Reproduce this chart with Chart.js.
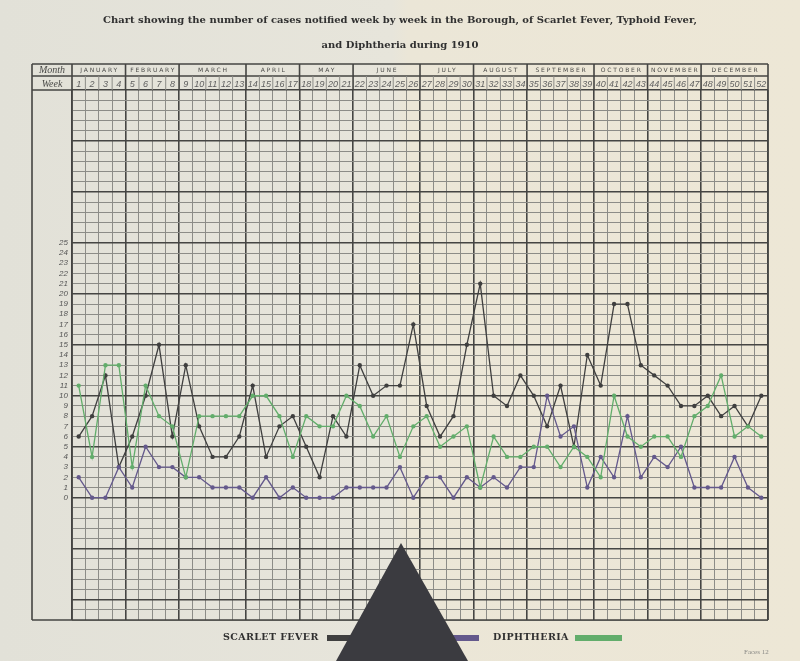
<!DOCTYPE html>
<html lang="en">
<head>
    <meta charset="UTF-8">
    <title>Scarlet Fever, Typhoid Fever and Diphtheria 1910</title>
    <script src="https://cdn.jsdelivr.net/npm/chart.js@4"></script>
    <style>
        html, body { margin: 0; padding: 0; background: #e8e5da; }
        #wrap { width: 800px; height: 661px; }
    </style>
</head>
<body>
    <div id="wrap"><canvas id="chart" width="800" height="661"></canvas></div>

    <script>
        // Data (cases notified per week, 1910)
        const weeks = ['1','2','3','4','5','6','7','8','9','10','11','12','13','14','15','16','17','18','19','20',
            '21','22','23','24','25','26','27','28','29','30','31','32','33','34','35','36','37','38','39','40',
            '41','42','43','44','45','46','47','48','49','50','51','52'];
        const months = ['JANUARY','FEBRUARY','MARCH','APRIL','MAY','JUNE','JULY','AUGUST','SEPTEMBER','OCTOBER','NOVEMBER','DECEMBER'];
        const monthWeeks = [4, 4, 5, 4, 4, 5, 4, 4, 5, 4, 4, 5];

        const scarletFever = [6,8,12,3,6,10,15,6,13,7,4,4,6,11,4,7,8,5,2,8,6,13,10,11,11,17,
            9,6,8,15,21,10,9,12,10,7,11,5,14,11,19,19,13,12,11,9,9,10,8,9,7,10];
        const typhoidFever = [2,0,0,3,1,5,3,3,2,2,1,1,1,0,2,0,1,0,0,0,1,1,1,1,3,0,
            2,2,0,2,1,2,1,3,3,10,6,7,1,4,2,8,2,4,3,5,1,1,1,4,1,0];
        const diphtheria = [11,4,13,13,3,11,8,7,2,8,8,8,8,10,10,8,4,8,7,7,10,9,6,8,4,7,
            8,5,6,7,1,6,4,4,5,5,3,5,4,2,10,6,5,6,6,4,8,9,12,6,7,6];

        const yMin = -12, yMax = 40, yLabelMax = 25;

        const dark = '#454543';
        const light = '#8c8c87';
        const colScarlet = '#3f3f3f';
        const colTyphoid = '#64598c';
        const colDiph = '#62ad6b';

        // index of grid line at the left edge of each month (plus the right edge)
        const monthStarts = [];
        let acc = 0;
        monthWeeks.forEach(n => { monthStarts.push(acc); acc += n; });
        monthStarts.push(acc);

        const paper = {
            id: 'paper',
            beforeDraw(chart) {
                const c = chart.ctx;
                const g = c.createLinearGradient(0, 0, chart.width, 0);
                g.addColorStop(0, '#e2e1d8');
                g.addColorStop(0.49, '#e7e5db');
                g.addColorStop(0.51, '#ebe6d7');
                g.addColorStop(1, '#ede7d6');
                c.save();
                c.fillStyle = g;
                c.fillRect(0, 0, chart.width, chart.height);
                c.restore();
            }
        };

        const frame = {
            id: 'frame',
            afterDraw(chart) {
                const c = chart.ctx;
                const x = chart.scales.x;
                const area = chart.chartArea;
                const L = 32, top = 64, mid = 76;
                const colW = x.getPixelForValue(1) - x.getPixelForValue(0);
                const edge = i => x.getPixelForValue(0) - colW / 2 + i * colW;

                c.save();
                // header rows
                c.strokeStyle = dark;
                c.lineWidth = 1.6;
                c.beginPath();
                c.moveTo(L, top); c.lineTo(area.right, top);
                c.moveTo(L, mid); c.lineTo(area.right, mid);
                c.moveTo(L, area.top); c.lineTo(area.left, area.top);
                c.moveTo(L, top); c.lineTo(L, area.bottom);
                c.moveTo(area.left, top); c.lineTo(area.left, area.bottom);
                c.moveTo(area.right, top); c.lineTo(area.right, area.bottom);
                c.moveTo(L, area.bottom); c.lineTo(area.right, area.bottom);
                monthStarts.forEach(i => { c.moveTo(edge(i), top); c.lineTo(edge(i), area.top); });
                c.stroke();

                c.strokeStyle = light;
                c.lineWidth = 1;
                c.beginPath();
                for (let i = 1; i < weeks.length; i++) {
                    if (monthStarts.includes(i)) continue;
                    c.moveTo(edge(i), mid); c.lineTo(edge(i), area.top);
                }
                c.stroke();

                // header text
                c.fillStyle = '#4a4a48';
                c.textAlign = 'center';
                c.textBaseline = 'middle';
                c.font = 'italic 10px "Liberation Serif"';
                c.fillText('Month', (L + area.left) / 2, 70);
                c.fillText('Week', (L + area.left) / 2, 84);

                c.font = '6px "DejaVu Sans"';
                c.letterSpacing = '1.8px';
                months.forEach((m, k) => {
                    const cx = (edge(monthStarts[k]) + edge(monthStarts[k + 1])) / 2;
                    c.fillText(m, cx + 0.9, 70.5);
                });
                c.letterSpacing = '0px';

                c.fillStyle = '#606060';
                c.font = 'italic 9px "Liberation Sans"';
                weeks.forEach((w, i) => c.fillText(w, x.getPixelForValue(i), 84));

                // title, sized to the width of the printed heading
                const t1 = 'Chart showing the number of cases notified week by week in the Borough, of Scarlet Fever, Typhoid Fever,';
                c.font = 'bold 10px "DejaVu Serif"';
                const size = 10 * 594 / c.measureText(t1).width;
                c.font = 'bold ' + size.toFixed(2) + 'px "DejaVu Serif"';
                c.fillStyle = '#303030';
                c.fillText(t1, 400, 20);
                c.fillText('and Diphtheria during 1910', 400, 45);

                // legend
                c.textAlign = 'left';
                c.font = 'bold 9.5px "DejaVu Serif"';
                c.letterSpacing = '0.4px';
                c.fillText('SCARLET FEVER', 223, 638);
                c.fillText('DIPHTHERIA', 493, 638);
                c.letterSpacing = '0px';
                c.font = 'bold 7.5px "DejaVu Serif"';
                c.fillText('TYPHOID FEVER', 364, 638);
                c.fillStyle = colScarlet; c.fillRect(327, 635, 30, 6);
                c.fillStyle = colTyphoid; c.fillRect(444, 635, 35, 6);
                c.fillStyle = colDiph; c.fillRect(575, 635, 47, 6);

                c.fillStyle = '#8a8a86';
                c.font = '7px "Liberation Serif"';
                c.fillText('Faces 12', 744, 652);

                // dark triangle over the lower middle of the scan
                c.fillStyle = '#3b3b40';
                c.beginPath();
                c.moveTo(401, 543);
                c.lineTo(468, 661);
                c.lineTo(336, 661);
                c.closePath();
                c.fill();
                c.restore();
            }
        };

        const lineSet = (label, data, color) => ({
            label: label,
            data: data,
            borderColor: color,
            backgroundColor: color,
            borderWidth: 1.3,
            pointRadius: 2.2,
            pointBorderWidth: 0,
            pointBackgroundColor: color,
            tension: 0
        });

        const ctx = document.getElementById('chart').getContext('2d');
        new Chart(ctx, {
            type: 'line',
            data: {
                labels: weeks,
                datasets: [
                    lineSet('Diphtheria', diphtheria, colDiph),
                    lineSet('Typhoid Fever', typhoidFever, colTyphoid),
                    lineSet('Scarlet Fever', scarletFever, colScarlet)
                ]
            },
            options: {
                responsive: false,
                animation: false,
                layout: { padding: { left: 32, right: 32, top: 90, bottom: 41 } },
                plugins: {
                    legend: { display: false },
                    title: { display: false },
                    tooltip: { enabled: false }
                },
                scales: {
                    x: {
                        type: 'category',
                        offset: true,
                        ticks: { display: false },
                        border: { display: false },
                        grid: {
                            offset: true,
                            drawTicks: false,
                            color: c => (c.index === undefined || monthStarts.includes(c.index)) ? dark : light,
                            lineWidth: c => (c.index === undefined || monthStarts.includes(c.index)) ? 1.6 : 1
                        },
                        afterFit(s) { s.height = 0; }
                    },
                    y: {
                        min: yMin,
                        max: yMax,
                        border: { display: false },
                        ticks: {
                            stepSize: 1,
                            autoSkip: false,
                            maxTicksLimit: 100,
                            padding: 4,
                            color: '#555',
                            font: { family: 'Liberation Sans', style: 'italic', size: 8 },
                            callback: v => (v >= 0 && v <= yLabelMax) ? String(v) : ''
                        },
                        grid: {
                            drawTicks: false,
                            color: c => (c.tick.value % 5 === 0) ? dark : light,
                            lineWidth: c => (c.tick.value % 5 === 0) ? 1.6 : 1
                        },
                        afterFit(s) { s.width = 40; }
                    }
                }
            },
            plugins: [paper, frame]
        });
    </script>
</body>
</html>
